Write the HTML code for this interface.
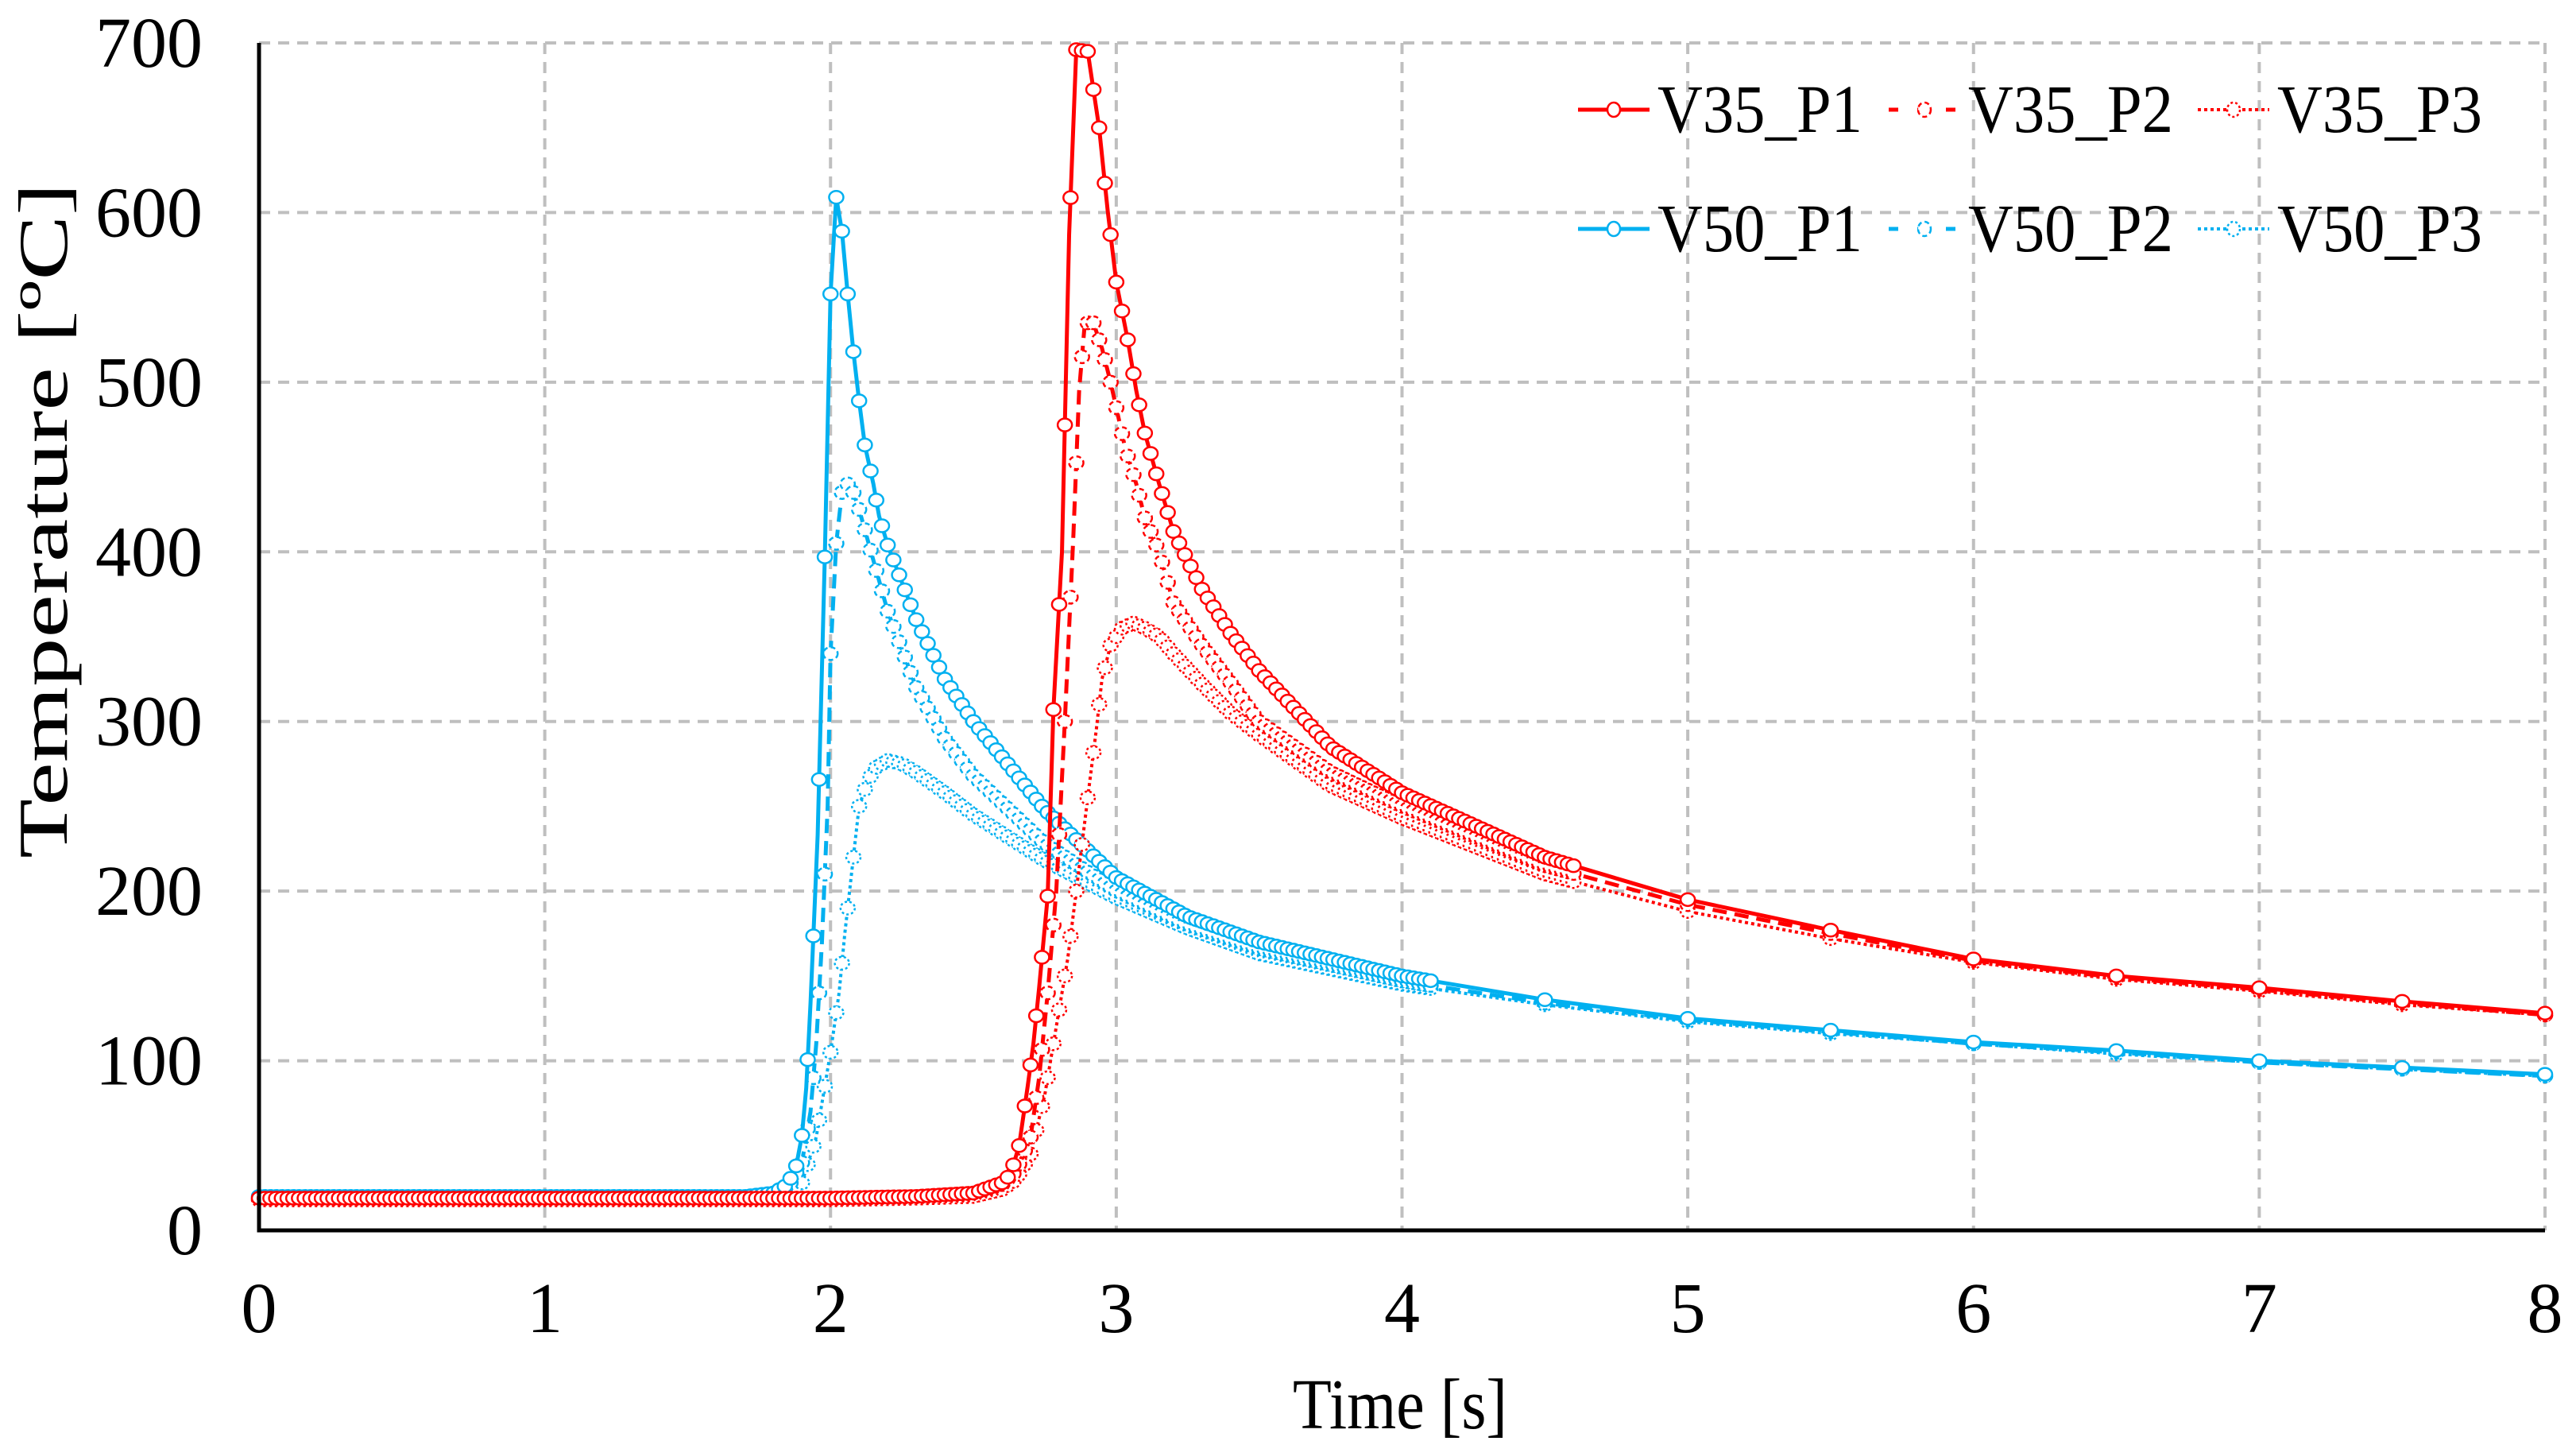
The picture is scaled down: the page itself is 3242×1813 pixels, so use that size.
<!DOCTYPE html>
<html><head><meta charset="utf-8"><style>
html,body{margin:0;padding:0;background:#fff;}
svg{display:block;font-family:"Liberation Serif","Times New Roman",serif;}
</style></head><body>
<svg id="chart" xmlns="http://www.w3.org/2000/svg" width="3242" height="1813" viewBox="0 0 3242 1813">
<g id="grid"></g>
<g id="series"></g>
<g id="axes"></g>
<g id="legend"></g>
<text x="1762" y="1797" font-size="90" text-anchor="middle" textLength="270" lengthAdjust="spacingAndGlyphs">Time [s]</text>
<text transform="translate(84,655) rotate(-90)" font-size="88" text-anchor="middle" textLength="850" lengthAdjust="spacingAndGlyphs">Temperature [ºC]</text>
</svg>
<script>
const xTicks = [0,1,2,3,4,5,6,7,8];
const yTicks = [0,100,200,300,400,500,600,700];
const seriesNames = ["V35_P1","V35_P2","V35_P3","V50_P1","V50_P2","V50_P3"];

const v50p1T = [0,0.5,1,1.5,1.7,1.8,1.85,1.88,1.9,1.915,1.93,1.955,1.98,2.0,2.02,2.04,2.06,2.08,2.1,2.12,2.15,2.17,2.2,2.3,2.4,2.5,2.75,3.0,3.25,3.5,4.0,4.5,5.0,5.5,6.0,6.5,7.0,7.5,8.0];
const v50p1V = [20,20,20,20,20,22,27,38,56,84,134,233,397,552,609,589,552,518,489,463,440,421,404,360,325,300,248,208,185,170,150,136,125,118,111,106,100,96,92];
const v50p2T = [0,0.5,1,1.5,1.7,1.8,1.85,1.9,1.93,1.95,1.97,1.99,2.0,2.02,2.04,2.06,2.08,2.1,2.15,2.2,2.3,2.4,2.5,2.75,3.0,3.25,3.5,4,4.5,5,5.5,6,6.5,7,7.5,8];
const v50p2V = [20,20,20,20,20,21,25,40,70,110,170,250,340,405,435,440,435,425,395,365,320,290,268,228,200,180,166,147,134,124,117,110,105,99,95,91];
const v50p3T = [0,0.5,1,1.5,1.7,1.8,1.85,1.9,1.95,2.0,2.03,2.05,2.08,2.1,2.13,2.16,2.2,2.25,2.3,2.4,2.5,2.75,3,3.25,3.5,4,4.5,5,5.5,6,6.5,7,7.5,8];
const v50p3V = [19,19,19,19,19,20,22,28,55,105,140,175,220,250,265,273,277,275,270,258,245,218,196,178,163,145,133,123,116,110,104,99,95,91];
const v35p1T = [0,0.5,1,1.5,2,2.3,2.5,2.55,2.6,2.63,2.66,2.69,2.71,2.73,2.76,2.78,2.81,2.835,2.86,2.9,2.94,2.97,3.0,3.04,3.07,3.1,3.15,3.2,3.3,3.4,3.5,3.75,4,4.5,5,5.5,6,6.5,7,7.5,8];
const v35p1V = [19,19,19,19,19,20,22,25,28,33,50,85,110,143,197,307,400,587,696,695,650,601,559,525,495,470,440,412,378,352,330,285,258,220,195,177,160,150,143,135,128];
const v35p2T = [0,0.5,1,1.5,2,2.3,2.5,2.6,2.65,2.7,2.73,2.76,2.79,2.82,2.85,2.87,2.89,2.92,2.95,2.98,3.0,3.03,3.07,3.1,3.15,3.2,3.3,3.4,3.5,3.75,4,4.5,5,5.5,6,6.5,7,7.5,8];
const v35p2V = [19,19,19,19,19,20,22,27,35,55,90,140,200,300,410,495,535,535,520,500,485,462,440,420,400,370,345,323,300,270,250,215,192,175,159,149,142,134,127];
const v35p3T = [0,0.5,1,1.5,2,2.3,2.5,2.6,2.65,2.7,2.75,2.8,2.83,2.86,2.9,2.93,2.95,2.98,3.02,3.06,3.1,3.15,3.2,3.3,3.4,3.5,3.75,4,4.5,5,5.5,6,6.5,7,7.5,8];
const v35p3V = [18,18,18,18,18,19,20,24,30,45,80,130,160,200,255,295,325,345,355,358,355,350,340,322,305,292,262,243,210,188,172,158,148,141,133,127];

const X0=326, X1=3203, Y0=1548, Y1=54;
function xs(t){return X0+(t-0)/(8-0)*(X1-X0);}
function ys(v){return Y0-(v-0)/(700-0)*(Y0-Y1);}
const NS="http://www.w3.org/2000/svg";
function mk(tag,parent){const e=document.createElementNS(NS,tag);parent.appendChild(e);return e;}

const grid=document.getElementById('grid');
xTicks.forEach(t=>{ if(t===0) return;
  const l=mk('line',grid);
  
  
  l.setAttribute('x1',xs(t));l.setAttribute('x2',xs(t));l.setAttribute('y1',Y1);l.setAttribute('y2',Y0);
  l.setAttribute('stroke','#BFBFBF');l.setAttribute('stroke-width','4');l.setAttribute('stroke-dasharray','14 10');
});
yTicks.forEach(v=>{ if(v===0) return;
  const l=mk('line',grid);
  
  
  l.setAttribute('x1',X0);l.setAttribute('x2',X1);l.setAttribute('y1',ys(v));l.setAttribute('y2',ys(v));
  l.setAttribute('stroke','#BFBFBF');l.setAttribute('stroke-width','4');l.setAttribute('stroke-dasharray','14 10');
});

const axes=document.getElementById('axes');
const ax=mk('path',axes);


ax.setAttribute('d',`M${X0},${Y1} L${X0},${Y0} L${X1},${Y0}`);
ax.setAttribute('fill','none');ax.setAttribute('stroke','#000');ax.setAttribute('stroke-width','5');
xTicks.forEach(t=>{
  const tx=mk('text',axes);
  
  
  tx.setAttribute('x',xs(t));tx.setAttribute('y',1676);tx.setAttribute('font-size','90');tx.setAttribute('text-anchor','middle');
  tx.textContent=t;
});
yTicks.forEach(v=>{
  const tx=mk('text',axes);
  
  
  tx.setAttribute('x',255);tx.setAttribute('y',ys(v)+30);tx.setAttribute('font-size','90');tx.setAttribute('text-anchor','end');
  tx.textContent=v;
});

const RED="#FF0000", BLUE="#00B0F0";
const styles={solid:{dash:null,w:5,mdash:null},dash:{dash:"18 10",w:5,mdash:"6 4"},dot:{dash:"4 4",w:4,mdash:"3 3"}};
function interp(ts,vs,t){for(let i=1;i<ts.length;i++){if(t<=ts[i]){const f=(t-ts[i-1])/(ts[i]-ts[i-1]);return vs[i-1]+f*(vs[i]-vs[i-1]);}}return vs[vs.length-1];}
function drawSeries(name,ts,vs,color,style,denseUntil){
  const st=styles[style];
  const g=mk('g',document.getElementById('series'));
  
  
  const p=mk('polyline',g);
  
  
  p.setAttribute('points',ts.map((t,i)=>xs(t)+','+ys(vs[i])).join(' '));
  p.setAttribute('fill','none');p.setAttribute('stroke',color);p.setAttribute('stroke-width',st.w);
  p.setAttribute('stroke-linejoin','round');
  if(st.dash)p.setAttribute('stroke-dasharray',st.dash);
  const mts=[];
  for(let t=0;t<=denseUntil+1e-9;t+=0.02)mts.push(t);
  ts.forEach(t=>{if(t>denseUntil)mts.push(t);});
  mts.forEach(t=>{
    const c=mk('ellipse',g);
    
    
    c.setAttribute('cx',xs(t));c.setAttribute('cy',ys(interp(ts,vs,t)));
    c.setAttribute('rx',9);c.setAttribute('ry',8);
    c.setAttribute('fill','#fff');c.setAttribute('stroke',color);c.setAttribute('stroke-width','2.5');
    if(st.mdash)c.setAttribute('stroke-dasharray',st.mdash);
  });
}
drawSeries("V50_P3",v50p3T,v50p3V,BLUE,"dot",4.1);
drawSeries("V50_P2",v50p2T,v50p2V,BLUE,"dash",4.1);
drawSeries("V50_P1",v50p1T,v50p1V,BLUE,"solid",4.1);
drawSeries("V35_P3",v35p3T,v35p3V,RED,"dot",4.6);
drawSeries("V35_P2",v35p2T,v35p2V,RED,"dash",4.6);
drawSeries("V35_P1",v35p1T,v35p1V,RED,"solid",4.6);

const legend=document.getElementById('legend');
const legStyle=["solid","dash","dot","solid","dash","dot"];
const legColor=[RED,RED,RED,BLUE,BLUE,BLUE];
const colX=[1986,2377,2766];
const rowY=[138,288];
seriesNames.forEach((n,i)=>{
  const col=i%3,row=Math.floor(i/3);
  const st=styles[legStyle[i]];
  const g=mk('g',legend);
  
  
  const x=colX[col],y=rowY[row];
  const l=mk('line',g);
  l.setAttribute('x1',x);l.setAttribute('x2',x+90);l.setAttribute('y1',y);l.setAttribute('y2',y);
  l.setAttribute('stroke',legColor[i]);l.setAttribute('stroke-width',st.w);
  if(st.dash)l.setAttribute('stroke-dasharray',legStyle[i]==='dash'?"12 24":"4 4");
  const c=mk('ellipse',g);
  c.setAttribute('cx',x+45);c.setAttribute('cy',y);c.setAttribute('rx',8);c.setAttribute('ry',9);
  c.setAttribute('fill','#fff');c.setAttribute('stroke',legColor[i]);c.setAttribute('stroke-width','2.5');
  if(st.mdash)c.setAttribute('stroke-dasharray',st.mdash);
  const tx=mk('text',g);
  
  
  tx.setAttribute('x',x+100);tx.setAttribute('y',y+28);tx.setAttribute('font-size','86');
  tx.setAttribute('textLength','258');tx.setAttribute('lengthAdjust','spacingAndGlyphs');
  tx.textContent=n;
});
</script>
</body></html>
